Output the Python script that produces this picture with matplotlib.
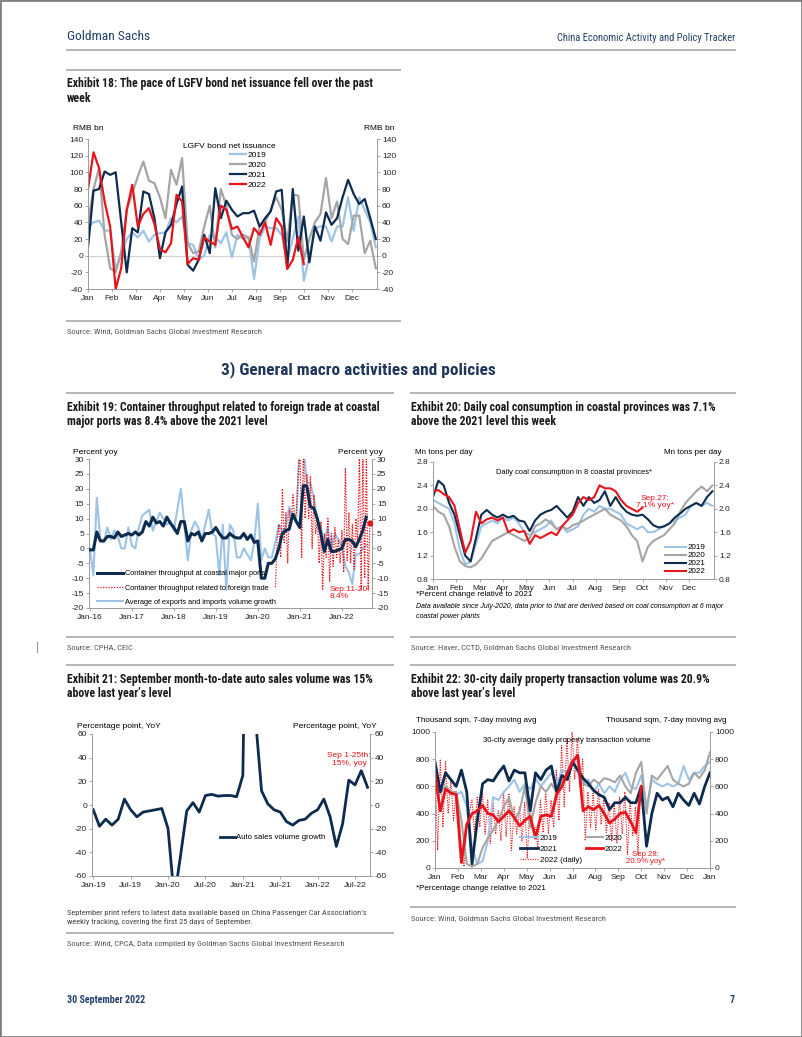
import matplotlib
matplotlib.use('Agg')
import matplotlib.pyplot as plt
import numpy as np
from matplotlib.patches import Rectangle
from matplotlib.lines import Line2D

# ---------------- data ----------------
months = ['Jan', 'Feb', 'Mar', 'Apr', 'May', 'Jun', 'Jul', 'Aug', 'Sep', 'Oct', 'Nov', 'Dec']

# Exhibit 18: weekly LGFV bond net issuance, RMB bn
lgfv_2019 = [35, 40, 42, 30, 30, -15, 0, 20, 28, 22, 30, 17, 25, 27, 28, 45, 40, 47, 15, 13,
             -5, 0, 25, 22, 15, 28, -2, 25, 20, 22, -28, 20, 35, 33, 33, 25, -5, 20, 47, -30,
             0, 33, 35, 35, 17, 35, 35, 70, 30, 70, 55, 40, 10]
lgfv_2020 = [40, 80, 105, 25, -15, -20, 5, 55, 75, 95, 113, 90, 87, 70, 45, 103, 85, 117, 15, 3,
             5, 35, 60, 10, 80, 60, 25, 20, 25, 22, -7, 35, 40, 55, 70, 55, 17, 73, 72, -5,
             20, 40, 50, 93, 45, 65, 20, 14, 48, 48, 3, 18, -15]
lgfv_2021 = [10, 78, 80, 101, 97, 100, 40, -20, 33, 28, 77, 74, 45, -3, 28, 37, 62, 83, -11, -18,
             -5, 25, 3, 81, 45, 66, 55, 47, 51, 51, 54, 35, 45, 53, 77, 79, -15, 80, 6, 47,
             -8, 35, 18, 52, 37, 45, 70, 91, 74, 62, 68, 45, 20]
lgfv_2022 = [80, 124, 105, 65, 35, -40, -15, 55, 85, 35, 50, 57, 38, 8, 4, 15, 73, 65, -10, -3,
             -5, 22, 17, 13, 60, 55, 32, 35, 22, 10, 33, 25, 40, 13, 45, 35, -16, -5, 22, -10]

# Exhibit 19: monthly from Jan-16, percent yoy
port_labels = ['Jan-16', 'Jan-17', 'Jan-18', 'Jan-19', 'Jan-20', 'Jan-21', 'Jan-22']
port_total = [-0.5, -0.5, 5.5, 2.5, 2.5, 4, 4, 3.5, 5.5, 4, 4.5, 5,
              4.5, 5.5, 4.5, 5.5, 9, 7.5, 10.5, 8.5, 9, 7.5, 10.5, 8.5,
              7, 5, 9, 9, 2.5, 5, 4.5, 5.5, 2.5, 5, 5, 5.5,
              7, 5, 3.5, 3.5, 5, 4, 3.5, 3.5, 5, 3, 4.5, 2,
              2.5, -10, -10, -5, -5, -3.5, 0, 5, 6, 6.5, 11.5, 9,
              7, 21, 21, 14, 13.5, 10, 5, -1, 3, -1, -1, -0.5,
              0, 3, 3, 2.5, 0.5, 3, 6, 10.5]
trade_volume = [0, -9, 17, 3, 2, 7, 3, 6, 4, 0, 0, 7,
                1, 0, 7, 11, 12, 13, 6, 9, 12, 10, 8, 9,
                6, 13, 20, 8, -4, 6, 9, 7, 3, 8, 13, 5,
                4, -9, 8, -14, 8, 6, -3, -3, 0, -2, -4, 2,
                15, -4, 0, -3, -3, 2, 8, 6, 7, 14, 10, 10,
                35, 35, 22, 22, 17, 10, 7, 2, 7, 0, 5, 3,
                1, -6, -8, -12, -2, -2, 0, 1]
# semi-monthly from Jun-20
foreign_trade = [-13, 3, 8, -3, 20, 2, 12, -5, 13, 8, 18, 10, 12, 25,
                 35, -3, 35, 10, 25, 10, 24, 0, 18, 5, 10, -5, 9, -14, 5, -3, 10, -11,
                 5, -6, 7, -3, 3, -5,
                 6, -8, 27, -4, 12, -5, 8, -7, 10, 2, 31, -14, 31, -10, 30, -14, 8.4]

# Exhibit 20: weekly coal consumption, Mn tons per day
coal_2019 = [2.15, 2.1, 2.05, 2.0, 1.75, 1.3, 1.05, 1.1, 1.4, 1.7, 1.75, 1.8, 1.75, 1.85, 1.8, 1.85,
             1.75, 1.6, 1.55, 1.6, 1.65, 1.7, 1.8, 1.65, 1.7, 1.6, 1.65, 1.7, 1.9, 2.0, 1.95, 2.05,
             2.0, 2.0, 1.95, 1.9, 1.75, 1.7, 1.65, 1.7, 1.6, 1.6, 1.65, 1.7, 1.75, 1.8, 1.85, 1.9,
             2.05, 2.1, 2.05, 2.1, 2.05]
coal_2020 = [2.05, 1.95, 1.9, 1.7, 1.35, 1.1, 1.02, 1.0, 1.05, 1.15, 1.3, 1.45, 1.5, 1.55, 1.6, 1.55,
             1.5, 1.45, 1.5, 1.7, 1.75, 1.82, 1.75, 1.65, 1.7, 1.65, 1.72, 1.75, 1.8, 1.85, 1.9, 1.95,
             2.0, 1.9, 1.85, 1.8, 1.7, 1.55, 1.45, 1.1, 1.35, 1.45, 1.5, 1.55, 1.65, 1.75, 1.95, 2.1,
             2.2, 2.3, 2.38, 2.3, 2.4]
coal_2021 = [2.2, 2.48, 2.4, 2.1, 1.9, 1.55, 1.2, 1.1, 1.5, 1.9, 1.98, 1.9, 1.85, 1.9, 1.85, 1.88,
             1.8, 1.78, 1.62, 1.8, 1.9, 1.95, 1.98, 2.05, 1.95, 1.85, 1.95, 2.2, 2.05, 2.2, 2.1, 2.15,
             2.3, 2.05, 2.2, 2.05, 1.95, 1.9, 1.88, 1.9, 1.82, 1.72, 1.68, 1.7, 1.75, 1.85, 1.92, 2.0,
             2.05, 2.1, 2.05, 2.2, 2.3]
coal_2022 = [2.3, 2.32, 2.25, 2.2, 2.05, 1.65, 1.25, 1.45, 1.95, 1.75, 1.82, 1.85, 1.8, 1.85, 1.6, 1.65,
             1.6, 1.62, 1.4, 1.55, 1.5, 1.55, 1.6, 1.55, 1.7, 1.8, 1.9, 2.1, 2.2, 2.15, 2.2, 2.4,
             2.35, 2.35, 2.3, 2.15, 2.05, 2.0, 1.95, 2.02]

# Exhibit 21: monthly auto sales volume growth from Jan-19
auto_labels = ['Jan-19', 'Jul-19', 'Jan-20', 'Jul-20', 'Jan-21', 'Jul-21', 'Jan-22', 'Jul-22']
auto_sales = [-4, -18, -12, -17, -12, 5, -4, -10, -6, -5, -4, -3,
              -20, -79, -43, -5, 2, -6, 8, 9, 7.5, 8, 8, 7,
              25, 365, 75, 12, 1, -4, -6, -14, -17, -13, -12, -7,
              -4, 5, -10, -35, -16, 21, 17, 29, 15]

# Exhibit 22: weekly 30-city property transactions, thousand sqm (7dma)
prop_2019 = [780, 550, 600, 560, 540, 560, 450, 150, 30, 50, 200, 520, 500, 560, 600, 650,
             560, 620, 580, 660, 600, 650, 700, 620, 720, 700, 800, 700, 620, 650, 560, 620,
             550, 600, 560, 650, 700, 600, 580, 680, 450, 650, 620, 600, 620, 600, 620, 750,
             650, 700, 700, 750, 780]
prop_2020 = [620, 560, 600, 560, 560, 350, 30, 10, 30, 150, 220, 280, 350, 450, 520, 350,
             420, 600, 300, 480, 600, 560, 620, 560, 620, 700, 780, 830, 620, 600, 650, 620,
             660, 650, 630, 680, 600, 550, 700, 780, 400, 680, 650, 700, 750, 650, 620, 600,
             620, 700, 660, 720, 850]
prop_2021 = [780, 560, 700, 650, 600, 720, 560, 30, 350, 620, 650, 640, 700, 750, 640, 720,
             700, 700, 420, 700, 650, 720, 750, 560, 680, 650, 780, 720, 660, 620, 570, 540,
             520, 430, 480, 480, 520, 480, 480, 600, 160, 400, 550, 500, 520, 450, 550, 500,
             460, 550, 470, 600, 700]
prop_2022 = [690, 420, 580, 550, 540, 40, 320, 400, 420, 460, 400, 390, 340, 380, 420, 370,
             310, 350, 380, 220, 380, 390, 380, 540, 600, 700, 780, 830, 420, 450, 430, 460,
             400, 330, 360, 400, 410, 340, 260, 600]
# twice a week samples of the daily series
prop_2022_daily = [750, 130, 800, 300, 780, 400, 650, 350, 560, 450, 150, 10, 300, 400, 500, 250,
                   520, 300, 560, 250, 500, 180, 480, 250, 420, 200, 560, 230, 550, 120, 450, 250,
                   450, 200, 480, 70, 470, 280, 300, 150, 500, 260, 550, 250, 500, 300, 720, 350,
                   900, 450, 950, 560, 1000, 650, 950, 600, 800, 200, 560, 300, 550, 280, 580, 320,
                   520, 260, 480, 200, 480, 180, 520, 250, 560, 100, 500, 240, 450, 100, 600, 620]

# ---------------- style ----------------
NARROW = ['Roboto Condensed', 'Liberation Sans Narrow', 'Liberation Sans', 'DejaVu Sans']
plt.rcParams['font.family'] = ['Liberation Sans', 'DejaVu Sans']

C19 = '#9dc3e6'
C20 = '#a5a5a5'
C21 = '#0c2b4e'
C22 = '#e8141b'
NAVY = '#24406a'
GRID = '#9a9a9a'

W, H = 802, 1037
fig = plt.figure(figsize=(W / 100, H / 100), dpi=100)
renderer = fig.canvas.get_renderer()


def fit_size(s, width, **kw):
    # font size that makes text s span `width` pixels
    t = fig.text(0, 0, s, fontsize=10, **kw)
    w = t.get_window_extent(renderer).width
    t.remove()
    return 10 * width / w


def txt(x, y, s, **kw):
    kw.setdefault('va', 'center')
    fig.text(x / W, 1 - y / H, s, **kw)


def hline(x0, x1, y, color='#b5b5b5', lw=1.4):
    fig.add_artist(Line2D([x0 / W, x1 / W], [1 - y / H, 1 - y / H], color=color, lw=lw))


def axes_at(x0, y0, x1, y1):
    return fig.add_axes([x0 / W, 1 - y1 / H, (x1 - x0) / W, (y1 - y0) / H])


def style(ax, ylim, yticks, xlim, xticks, xlabels, fmt='{:g}'):
    ax.set_ylim(ylim)
    ax.set_yticks(yticks)
    ax.set_yticklabels([fmt.format(v) for v in yticks])
    ax.set_xlim(xlim)
    ax.set_xticks(xticks)
    ax.set_xticklabels(xlabels)
    ax.tick_params(axis='y', left=True, right=True, labelleft=True, labelright=True,
                   labelsize=6, length=2, width=0.6, color=GRID, pad=1.5, labelcolor='#222222')
    ax.tick_params(axis='x', labelsize=6, length=2, width=0.6, color=GRID, pad=2,
                   labelcolor='#222222')
    ax.spines['top'].set_visible(False)
    for s in ['left', 'right', 'bottom']:
        ax.spines[s].set_color(GRID)
        ax.spines[s].set_linewidth(0.7)


TITLE = dict(weight='bold', family=NARROW, color='#1a1a1a')
TS = fit_size('Exhibit 18: The pace of LGFV bond net issuance fell over the past', 307, **TITLE)
SRC = dict(family=NARROW, color='#555555')
SS = fit_size('Source: Wind, Goldman Sachs Global Investment Research', 194, **SRC)

# page frame and header
fig.add_artist(Rectangle((0, 0), 1, 1, transform=fig.transFigure, fill=False,
                         edgecolor='#808080', lw=2))
txt(67, 36, 'Goldman Sachs', color=NAVY, family=NARROW,
    fontsize=fit_size('Goldman Sachs', 83, family=NARROW))
txt(735, 38, 'China Economic Activity and Policy Tracker', color=NAVY, family=NARROW,
    ha='right', fontsize=fit_size('China Economic Activity and Policy Tracker', 178,
                                  family=NARROW))
hline(67, 735, 50)
fig.add_artist(Line2D([37 / W, 37 / W], [1 - 642 / H, 1 - 652 / H], color='#999999', lw=0.8))

# ---------------- Exhibit 18 ----------------
hline(67, 400, 70)
txt(67, 84, 'Exhibit 18: The pace of LGFV bond net issuance fell over the past',
    fontsize=TS, **TITLE)
txt(67, 98, 'week', fontsize=TS, **TITLE)
txt(73, 128, 'RMB bn', fontsize=6)
txt(394, 128, 'RMB bn', fontsize=6, ha='right')

ax = axes_at(88, 139, 377, 289)
wk = 12 / 52
for vals, c, lab in [(lgfv_2019, C19, '2019'), (lgfv_2020, C20, '2020'),
                     (lgfv_2021, C21, '2021'), (lgfv_2022, C22, '2022')]:
    ax.plot(np.arange(len(vals)) * wk, vals, color=c, lw=1.6, label=lab)
ax.axhline(0, color='#c8c8c8', lw=0.6, zorder=0)
style(ax, (-40, 140), np.arange(-40, 141, 20), (0, 12.05), np.arange(12), months)
ax.text(0.49, 0.95, 'LGFV bond net issuance', transform=ax.transAxes, ha='center',
        va='center', fontsize=6)
ax.legend(loc='upper left', bbox_to_anchor=(0.49, 0.92), frameon=False, fontsize=6,
          handlelength=2.0, handletextpad=0.2, labelspacing=0.25, borderpad=0,
          borderaxespad=0)

hline(67, 400, 321)
txt(67, 331, 'Source: Wind, Goldman Sachs Global Investment Research', fontsize=SS, **SRC)

txt(221, 370, '3) General macro activities and policies', weight='bold', color='#1f3559',
    family=NARROW, fontsize=fit_size('3) General macro activities and policies', 275,
                                     weight='bold', family=NARROW))

# ---------------- Exhibit 19 ----------------
hline(67, 393, 393)
txt(67, 407, 'Exhibit 19: Container throughput related to foreign trade at coastal',
    fontsize=TS, **TITLE)
txt(67, 421, 'major ports was 8.4% above the 2021 level', fontsize=TS, **TITLE)
txt(73, 452, 'Percent yoy', fontsize=6)
txt(383, 452, 'Percent yoy', fontsize=6, ha='right')

ax = axes_at(89, 459, 372, 608)
xm = np.arange(len(port_total)) / 12
ax.plot(np.arange(len(trade_volume)) / 12, trade_volume, color=C19, lw=1.5,
        label='Average of exports and imports volume growth', zorder=2)
xf = 4.42 + np.arange(len(foreign_trade)) / 24
ax.plot(xf, foreign_trade, color=C22, lw=0.9, ls=(0, (1, 1.2)),
        label='Container throughput related to foreign trade', zorder=3)
ax.plot(xm, port_total, color=C21, lw=2.2, label='Container throughput at coastal major ports',
        zorder=4)
ax.plot(xf[-1:], foreign_trade[-1:], 'o', color=C22, ms=3.5, zorder=5)
style(ax, (-20, 30), np.arange(-20, 31, 5), (-0.02, 6.72), np.arange(7), port_labels)
h, l = ax.get_legend_handles_labels()
ax.legend([h[2], h[1], h[0]], [l[2], l[1], l[0]], loc='lower left',
          bbox_to_anchor=(0.03, 0.015), frameon=False, fontsize=5.3, handlelength=3.4,
          handletextpad=0.3, labelspacing=0.95, borderpad=0, borderaxespad=0)
ax.text(0.852, 0.10, 'Sep.11-20:\n8.4%', transform=ax.transAxes, color=C22, fontsize=6,
        ha='left', va='center', linespacing=1.1)

hline(67, 393, 637)
txt(67, 647, 'Source: CPHA, CEIC', fontsize=SS, **SRC)

# ---------------- Exhibit 20 ----------------
hline(411, 735, 393)
txt(411, 407, 'Exhibit 20: Daily coal consumption in coastal provinces was 7.1%',
    fontsize=TS, **TITLE)
txt(411, 421, 'above the 2021 level this week', fontsize=TS, **TITLE)
txt(415, 452, 'Mn tons per day', fontsize=5.8)
txt(722, 452, 'Mn tons per day', fontsize=5.8, ha='right')

ax = axes_at(433, 462, 714, 579)
for vals, c, lab in [(coal_2019, C19, '2019'), (coal_2020, C20, '2020'),
                     (coal_2021, C21, '2021'), (coal_2022, C22, '2022')]:
    ax.plot(np.arange(len(vals)) * wk, vals, color=c, lw=1.5, label=lab)
style(ax, (0.8, 2.8), np.arange(0.8, 2.81, 0.4), (0, 12.07), np.arange(12), months,
      fmt='{:.1f}')
ax.text(0.5, 0.91, 'Daily coal consumption in 8 coastal provinces*', transform=ax.transAxes,
        ha='center', va='center', fontsize=5.4)
ax.text(0.79, 0.66, 'Sep.27:\n7.1% yoy*', transform=ax.transAxes, ha='center', va='center',
        fontsize=6, color=C22, linespacing=1.1)
ax.legend(loc='lower right', bbox_to_anchor=(0.97, 0.03), frameon=False, fontsize=5.8,
          handlelength=2.6, handletextpad=0.2, labelspacing=0.05, borderpad=0,
          borderaxespad=0)
txt(416, 595, '*Percent change relative to 2021', fontsize=5.8)
txt(416, 607, 'Data available since July-2020, data prior to that are derived based on coal '
    'consumption at 6 major', fontsize=5.0, style='italic')
txt(416, 617, 'coastal power plants', fontsize=5.0, style='italic')

hline(411, 735, 637)
txt(411, 647, 'Source: Haver, CCTD, Goldman Sachs Global Investment Research', fontsize=SS,
    **SRC)

# ---------------- Exhibit 21 ----------------
hline(67, 393, 665)
txt(67, 680, 'Exhibit 21: September month-to-date auto sales volume was 15%',
    fontsize=TS, **TITLE)
txt(67, 694, 'above last year\u2019s level', fontsize=TS, **TITLE)
txt(77, 727, 'Percentage point, YoY', fontsize=6)
txt(377, 727, 'Percentage point, YoY', fontsize=6, ha='right')

ax = axes_at(92, 734, 370, 876)
ax.plot(np.arange(len(auto_sales)), auto_sales, color=C21, lw=2,
        label='Auto sales volume growth')
style(ax, (-60, 60), np.arange(-60, 61, 20), (-0.2, 44.4), np.arange(0, 45, 6), auto_labels)
ax.legend(loc='center left', bbox_to_anchor=(0.46, 0.27), frameon=False, fontsize=5.6,
          handlelength=1.9, handletextpad=0.2, borderpad=0, borderaxespad=0)
ax.text(0.925, 0.82, 'Sep 1-25th:\n15%, yoy', transform=ax.transAxes, ha='center',
        va='center', fontsize=6, color=C22, linespacing=1.1)

NOTE = dict(family=NARROW, color='#444444')
NS = fit_size('September print refers to latest data available based on China Passenger Car '
              'Association\u2019s', 299, **NOTE)
txt(67, 913, 'September print refers to latest data available based on China Passenger Car '
    'Association\u2019s', fontsize=NS, **NOTE)
txt(67, 922, 'weekly tracking, covering the first 25 days of September.', fontsize=NS, **NOTE)
hline(67, 393, 933)
txt(67, 944, 'Source: Wind, CPCA, Data compiled by Goldman Sachs Global Investment Research',
    fontsize=SS, **SRC)

# ---------------- Exhibit 22 ----------------
hline(411, 735, 665)
txt(411, 680, 'Exhibit 22: 30-city daily property transaction volume was 20.9%',
    fontsize=TS, **TITLE)
txt(411, 694, 'above last year\u2019s level', fontsize=TS, **TITLE)
txt(416, 720, 'Thousand sqm, 7-day moving avg', fontsize=5.8)
txt(727, 720, 'Thousand sqm, 7-day moving avg', fontsize=5.8, ha='right')

ax = axes_at(435, 732, 710, 868)
xd = np.arange(len(prop_2022_daily)) * 3.5 / 30.42
ax.plot(xd, prop_2022_daily, color=C22, lw=0.8, ls=(0, (1, 1.2)), label='2022 (daily)')
ax.plot(np.arange(len(prop_2019)) * wk, prop_2019, color=C19, lw=1.5, label='2019')
ax.plot(np.arange(len(prop_2020)) * wk, prop_2020, color=C20, lw=1.5, label='2020')
ax.plot(np.arange(len(prop_2021)) * wk, prop_2021, color=C21, lw=2, label='2021')
ax.plot(np.arange(len(prop_2022)) * wk, prop_2022, color=C22, lw=2, label='2022')
style(ax, (0, 1000), np.arange(0, 1001, 200), (0, 12), np.arange(13), months + ['Jan'])
h, l = ax.get_legend_handles_labels()
order = [1, 3, 0, 2, 4]
ax.legend([h[i] for i in order], [l[i] for i in order], loc='upper left', ncol=2,
          bbox_to_anchor=(0.31, 0.25), frameon=False, fontsize=5.8, handlelength=2.2,
          handletextpad=0.2, labelspacing=0.45, columnspacing=0.5, borderpad=0,
          borderaxespad=0)
ax.text(0.48, 0.94, '30-city average daily property transaction volume', transform=ax.transAxes,
        ha='center', va='center', fontsize=5.5)
ax.text(0.765, 0.075, 'Sep 28:\n20.9% yoy*', transform=ax.transAxes, ha='center', va='center',
        fontsize=5.6, color=C22, linespacing=1.1)
txt(416, 888, '*Percentage change relative to 2021', fontsize=5.8)

hline(411, 735, 907)
txt(411, 918, 'Source: Wind, Goldman Sachs Global Investment Research', fontsize=SS, **SRC)

# footer
FOOT = dict(family=NARROW, color=NAVY, weight='bold')
FS = fit_size('30 September 2022', 78, **FOOT)
txt(67, 1000, '30 September 2022', fontsize=FS, **FOOT)
txt(735, 1000, '7', fontsize=FS, ha='right', **FOOT)

plt.savefig('out.png', dpi=100)
plt.close()
